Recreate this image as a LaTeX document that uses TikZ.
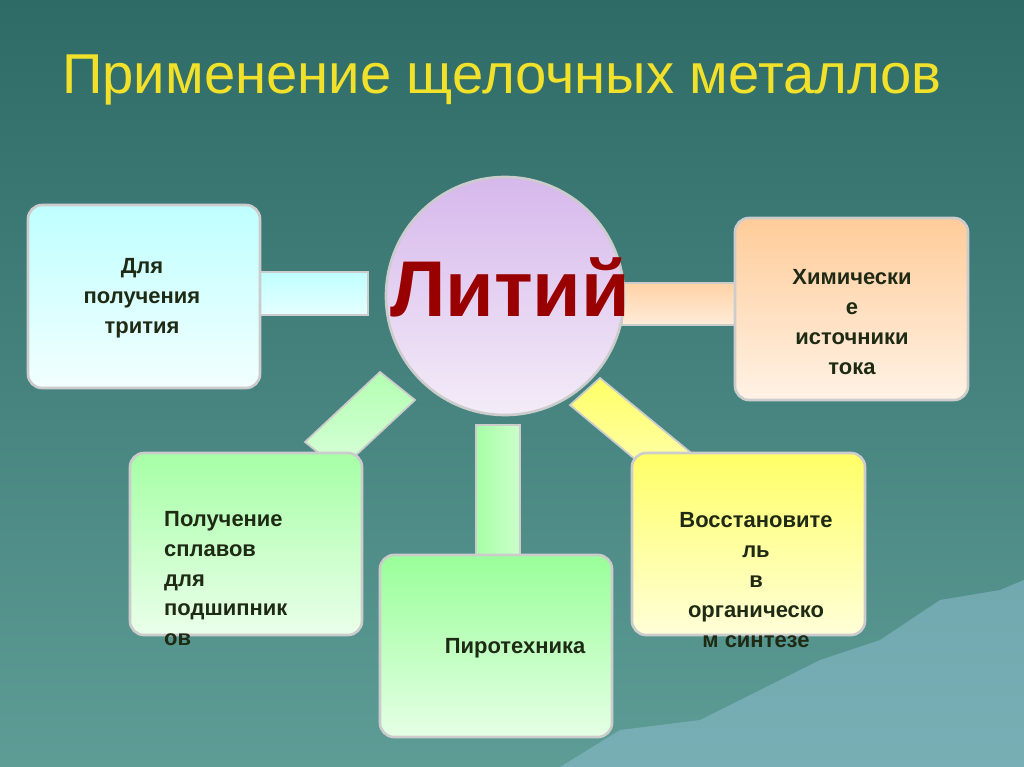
\documentclass[tikz,border=0pt]{standalone}
\usepackage{fontspec}
\setmainfont{Liberation Sans}
\usetikzlibrary{calc}
\definecolor{bgtop}{HTML}{2E6A66}
\definecolor{bgbot}{HTML}{5E9C96}
\definecolor{titlecol}{HTML}{F2E12A}
\definecolor{textcol}{HTML}{1E2A14}
\definecolor{circtop}{HTML}{D6B8EC}
\definecolor{circbot}{HTML}{F4ECF8}
\tikzset{
  box/.style={rounded corners=8pt, draw=gray!40, line width=1.5pt},
  boxtext/.style={font=\bfseries\fontsize{12.5}{17}\selectfont, text=textcol, align=center},
  bar/.style={draw=gray!40, line width=1pt}
}
\begin{document}
\begin{tikzpicture}[x=0.02cm,y=-0.02cm]

% фон
    \shade[top color=bgtop, bottom color=bgbot] (0,0) rectangle (1024,767);
    \useasboundingbox (0,0) rectangle (1024,767);
    % горы справа внизу
    \fill[cyan!30!teal!50, opacity=0.5] (560,767) -- (620,730) -- (700,720) -- (760,690) -- (820,660) -- (880,640) -- (940,600) -- (1000,590) -- (1024,580) -- (1024,767) -- cycle;

    % заголовок
    \node[font=\fontsize{32}{38}\selectfont, text=titlecol] (title) at (502,80) {Применение щелочных металлов};

    % перемычки
    \shade[bar, top color=cyan!25, bottom color=cyan!10] (255,272) rectangle (368,315);
    \shade[bar, top color=orange!35, bottom color=orange!15] (622,283) rectangle (740,325);
    \shade[bar, left color=green!35, right color=green!20] (476,425) rectangle (520,558);
    \shade[bar, top color=green!30, bottom color=green!15] (380,372) -- (415,400) -- (340,470) -- (305,442) -- cycle;
    \shade[bar, top color=yellow!60, bottom color=yellow!30] (570,405) -- (600,378) -- (690,452) -- (660,480) -- cycle;

    % центральный круг
    \shade[draw=gray!40, line width=1.5pt, top color=circtop, bottom color=circbot] (505,296) circle (119);
    \node[font=\bfseries\fontsize{45}{50}\selectfont, text=red!60!black] (li) at (510,287) {Литий};

    % блоки
    \shade[box, top color=cyan!25, bottom color=cyan!5] (28,205) rectangle (260,388);
    \shade[box, top color=orange!40, bottom color=orange!10] (735,218) rectangle (968,400);
    \shade[box, top color=green!35, bottom color=green!8] (130,453) rectangle (362,635);
    \shade[box, top color=green!40, bottom color=green!10] (380,555) rectangle (612,737);
    \shade[box, top color=yellow!60, bottom color=yellow!15] (632,453) rectangle (865,635);

    \node[boxtext] (tri) at (142,298) {Для\\получения\\трития};
    \node[boxtext] (cur) at (852,322) {Химически\\е\\источники\\тока};
    \node[boxtext, align=left, anchor=north west] (spl) at (158,505) {Получение\\сплавов\\для\\подшипник\\ов};
    \node[boxtext] (pir) at (515,648) {Пиротехника};
    \node[boxtext] (vos) at (756,580) {Восстановите\\ль\\в\\органическо\\м синтезе};

\end{tikzpicture}
\end{document}
